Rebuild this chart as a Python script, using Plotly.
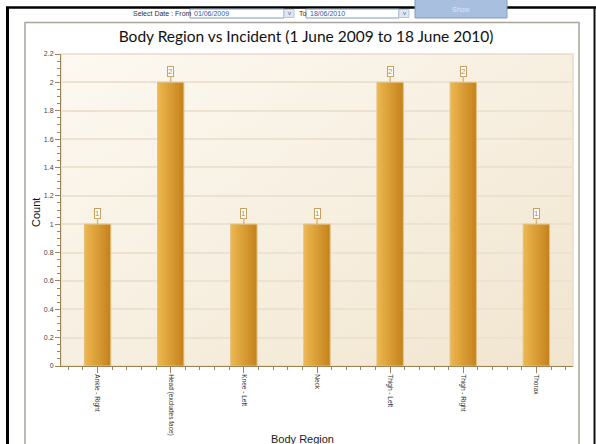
import base64
import plotly.graph_objects as go

# ---------------- data ----------------
categories = ["Ankle - Right", "Head (excludes face)", "Knee - Left", "Neck",
              "Thigh - Left", "Thigh - Right", "Thorax"]
counts = [1, 2, 1, 1, 2, 2, 1]
y_range = [0, 2.2]
y_dtick = 0.2
chart_title = "Body Region vs Incident (1 June 2009 to 18 June 2010)"
x_title = "Body Region"
y_title = "Count"
date_label = "Select Date : From"
date_from = "01/06/2009"
date_to_label = "To"
date_to = "18/06/2010"
button_label = "Show"

# ---------------- geometry helpers ----------------
W, H = 596, 444
ML, MR, MT, MB = 61, 23, 54, 78
PW = W - ML - MR
PH = H - MT - MB


def pxx(x):
    return (x - ML) / PW


def pxy(y):
    return (H - MB - y) / PH


xs = list(range(len(categories)))

fig = go.Figure()

# gradient bars made of vertical strips
bar_w = 0.36
n_strips = 12
c_left = (236, 181, 78)
c_right = (198, 132, 30)
sw = bar_w / n_strips
for k in range(n_strips):
    t = k / (n_strips - 1)
    col = tuple(round(c_left[i] + (c_right[i] - c_left[i]) * t) for i in range(3))
    off = -bar_w / 2 + k * sw
    width = min(sw * 1.6, bar_w / 2 - off)
    fig.add_trace(go.Bar(
        x=xs, y=counts, width=width, offset=off,
        marker=dict(color="rgb(%d,%d,%d)" % col, line=dict(width=0)),
        hoverinfo="skip", showlegend=False))

# bar outline
fig.add_trace(go.Bar(
    x=xs, y=counts, width=bar_w,
    marker=dict(color="rgba(0,0,0,0)", line=dict(color="#e3c07e", width=1)),
    hovertemplate="%{text}: %{y}<extra></extra>", text=categories,
    textposition="none", showlegend=False))

# value labels
annotations = []
for xi, v in zip(xs, counts):
    annotations.append(dict(
        x=xi, y=v, xref="x", yref="y", text=str(v), showarrow=True,
        arrowhead=0, arrowwidth=1.5, arrowcolor="#dbb97f", ax=0, ay=-11,
        bgcolor="#ffffff", bordercolor="#c9a062", borderwidth=1, borderpad=0,
        font=dict(family="Liberation Sans", size=8, color="#c08a3a")))

# axis titles
annotations.append(dict(
    x=pxx(36), y=pxy(213), xref="paper", yref="paper", text=y_title,
    showarrow=False, textangle=-90, xanchor="center", yanchor="middle",
    font=dict(family="Liberation Sans", size=11, color="#111111")))
annotations.append(dict(
    x=pxx(302), y=pxy(431), xref="paper", yref="paper", text=x_title,
    showarrow=False, xanchor="center", yanchor="top",
    font=dict(family="Liberation Sans", size=11, color="#222222")))

shapes = []
# plot area border
shapes.append(dict(type="rect", xref="paper", yref="paper", x0=0, x1=1, y0=0, y1=1,
                   line=dict(color="#e7dcc6", width=1.5), layer="below"))
# grey panel frame
shapes.append(dict(type="rect", xref="paper", yref="paper",
                   x0=pxx(25), x1=pxx(579), y0=pxy(460), y1=pxy(22.5),
                   line=dict(color="#aaa39a", width=1.5)))
# black outer frame
shapes.append(dict(type="line", xref="paper", yref="paper",
                   x0=pxx(7.5), x1=pxx(7.5), y0=pxy(460), y1=pxy(7),
                   line=dict(color="#000000", width=3)))
shapes.append(dict(type="line", xref="paper", yref="paper",
                   x0=pxx(6), x1=pxx(596), y0=pxy(7.5), y1=pxy(7.5),
                   line=dict(color="#000000", width=2.5)))
shapes.append(dict(type="line", xref="paper", yref="paper",
                   x0=pxx(594.5), x1=pxx(594.5), y0=pxy(460), y1=pxy(7),
                   line=dict(color="#111111", width=2)))
# input boxes
for x0, x1 in ((190, 284), (306, 399)):
    shapes.append(dict(type="rect", xref="paper", yref="paper",
                       x0=pxx(x0), x1=pxx(x1), y0=pxy(18), y1=pxy(9),
                       line=dict(color="#7f9db9", width=1), fillcolor="#ffffff"))
for x0, x1 in ((284, 294), (399, 409)):
    shapes.append(dict(type="rect", xref="paper", yref="paper",
                       x0=pxx(x0), x1=pxx(x1), y0=pxy(17.5), y1=pxy(9.5),
                       line=dict(color="#b6c6e3", width=1), fillcolor="#dfe7f6"))
# Show button
shapes.append(dict(type="rect", xref="paper", yref="paper",
                   x0=pxx(415), x1=pxx(507), y0=pxy(18), y1=pxy(-2),
                   line=dict(color="#7f9db9", width=1), fillcolor="#a9bfdf"))

# top control bar texts (drawn above the shapes)
ctrl_font = dict(family="Liberation Sans", size=7, color="#333333")
blue_font = dict(family="Liberation Sans", size=7, color="#2a5db0")


def ctrl_text(x, y, text, font, xanchor="left"):
    return dict(x=pxx(x), y=pxy(y), xref="paper", yref="paper", text=text,
                showarrow=False, xanchor=xanchor, yanchor="middle", font=font)


annotations.append(ctrl_text(131, 13.5, date_label, ctrl_font))
annotations.append(ctrl_text(192, 13.5, date_from, blue_font))
annotations.append(ctrl_text(297, 13.5, date_to_label, ctrl_font))
annotations.append(ctrl_text(308, 13.5, date_to, blue_font))
annotations.append(ctrl_text(461, 9, button_label,
                             dict(family="Liberation Sans", size=7, color="#dde6f4"),
                             xanchor="center"))
for ax_ in (289, 404):
    annotations.append(ctrl_text(ax_, 13, "v",
                                 dict(family="Liberation Sans", size=6, color="#4d6185"),
                                 xanchor="center"))

# gradient plot background as svg image
svg = ('<svg xmlns="http://www.w3.org/2000/svg" width="512" height="312">'
       '<defs><linearGradient id="g" x1="0" y1="0" x2="1" y2="1">'
       '<stop offset="0" stop-color="#fdf9f2"/><stop offset="1" stop-color="#f1e5cf"/>'
       '</linearGradient></defs><rect width="512" height="312" fill="url(#g)"/></svg>')
src = "data:image/svg+xml;base64," + base64.b64encode(svg.encode()).decode()

fig.update_layout(
    width=W, height=H,
    margin=dict(l=ML, r=MR, t=MT, b=MB, pad=0, autoexpand=False),
    paper_bgcolor="#ffffff",
    plot_bgcolor="rgba(0,0,0,0)",
    barmode="overlay",
    showlegend=False,
    title=dict(text=chart_title, x=306 / W, xref="container", xanchor="center",
               y=1 - 37 / H, yanchor="middle",
               font=dict(family="Lato", size=15.5, color="#111111")),
    images=[dict(source=src, xref="paper", yref="paper", x=0, y=1, sizex=1, sizey=1,
                 xanchor="left", yanchor="top", sizing="stretch", layer="below")],
    shapes=shapes,
    annotations=annotations,
    xaxis=dict(
        range=[-0.5, len(categories) - 0.5], tickvals=xs, ticktext=categories,
        tickangle=90, ticks="outside", ticklen=6, tickcolor="#9c8458",
        showgrid=False, zeroline=False, showline=True, linecolor="#9c8458",
        linewidth=1, automargin=False,
        tickfont=dict(family="Liberation Sans", size=6.5, color="#333333"),
        minor=dict(dtick=0.2, tick0=0, ticks="outside", ticklen=3,
                   tickcolor="#9c8458", showgrid=False),
    ),
    yaxis=dict(
        range=y_range, dtick=y_dtick, tick0=0, ticks="outside", ticklen=5,
        tickcolor="#9c8458", showgrid=True, gridcolor="#ece2cf", gridwidth=1.5,
        zeroline=False, showline=True, linecolor="#9c8458", linewidth=1,
        automargin=False,
        tickfont=dict(family="Liberation Sans", size=7, color="#444444"),
        minor=dict(dtick=0.05, ticks="outside", ticklen=3, tickcolor="#9c8458",
                   showgrid=False),
    ),
    hovermode="closest",
)

fig.write_html("out.html")
